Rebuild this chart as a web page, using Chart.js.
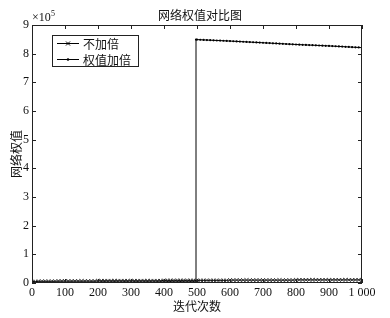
<!DOCTYPE html>
<html lang="zh">
<head>
<meta charset="UTF-8">
<title>网络权值对比图</title>
<style>
    body { margin: 0; background: #fff; }
    #wrap { width: 390px; height: 318px; }
</style>
<script src="https://cdn.jsdelivr.net/npm/chart.js"></script>
</head>
<body>
<div id="wrap"><canvas id="chart" width="390" height="318"></canvas></div>
<script>
// iterations sampled every 10 steps
const iters = [0, 10, 20, 30, 40, 50, 60, 70, 80, 90, 100, 110, 120, 130, 140, 150, 160, 170, 180, 190,
    200, 210, 220, 230, 240, 250, 260, 270, 280, 290, 300, 310, 320, 330, 340, 350, 360, 370, 380, 390,
    400, 410, 420, 430, 440, 450, 460, 470, 480, 490, 500, 510, 520, 530, 540, 550, 560, 570, 580, 590,
    600, 610, 620, 630, 640, 650, 660, 670, 680, 690, 700, 710, 720, 730, 740, 750, 760, 770, 780, 790,
    800, 810, 820, 830, 840, 850, 860, 870, 880, 890, 900, 910, 920, 930, 940, 950, 960, 970, 980, 990, 1000];

// values in units of 10^5
const noDouble = [0.05, 0.05, 0.06, 0.06, 0.06, 0.06, 0.06, 0.06, 0.07, 0.07, 0.07, 0.07, 0.07, 0.07, 0.07, 0.07, 0.07, 0.07, 0.07, 0.07,
    0.08, 0.08, 0.08, 0.08, 0.08, 0.08, 0.08, 0.08, 0.08, 0.08, 0.08, 0.08, 0.08, 0.08, 0.08, 0.08, 0.08, 0.08, 0.08, 0.08,
    0.09, 0.09, 0.09, 0.09, 0.09, 0.09, 0.09, 0.09, 0.09, 0.09, 0.09, 0.09, 0.09, 0.09, 0.09, 0.09, 0.09, 0.09, 0.09, 0.09,
    0.10, 0.10, 0.10, 0.10, 0.10, 0.10, 0.10, 0.10, 0.10, 0.10, 0.10, 0.10, 0.10, 0.10, 0.10, 0.10, 0.10, 0.10, 0.10, 0.10,
    0.11, 0.11, 0.11, 0.11, 0.11, 0.11, 0.11, 0.11, 0.11, 0.11, 0.11, 0.11, 0.11, 0.11, 0.11, 0.11, 0.11, 0.11, 0.11, 0.11, 0.11];

// doubled weights: iterations 0..490
const doubledLow = [0.03, 0.03, 0.03, 0.03, 0.03, 0.03, 0.03, 0.03, 0.03, 0.03, 0.03, 0.03, 0.03, 0.03, 0.03, 0.03, 0.03, 0.03, 0.03, 0.03,
    0.03, 0.03, 0.03, 0.03, 0.03, 0.03, 0.03, 0.03, 0.03, 0.03, 0.03, 0.03, 0.03, 0.03, 0.03, 0.03, 0.03, 0.03, 0.03, 0.03,
    0.03, 0.03, 0.03, 0.03, 0.03, 0.03, 0.03, 0.03, 0.03, 0.03];
const jumpIter = 497;
// doubled weights: iterations 500..1000
const doubledHigh = [8.49, 8.485, 8.48, 8.475, 8.47, 8.465, 8.46, 8.455, 8.45, 8.445,
    8.44, 8.434, 8.428, 8.422, 8.416, 8.41, 8.404, 8.398, 8.392, 8.386,
    8.38, 8.374, 8.368, 8.362, 8.356, 8.35, 8.344, 8.338, 8.332, 8.326,
    8.32, 8.315, 8.31, 8.305, 8.30, 8.295, 8.29, 8.285, 8.28, 8.275,
    8.27, 8.264, 8.258, 8.252, 8.246, 8.24, 8.234, 8.228, 8.222, 8.216, 8.21];

const xTicks = [0, 100, 200, 300, 400, 500, 600, 700, 800, 900, 1000];
const yTicks = [0, 1, 2, 3, 4, 5, 6, 7, 8, 9];
const seriesNames = ['不加倍', '权值加倍'];

const serif = '"Liberation Serif", "Noto Sans CJK SC", serif';
const cjk = '"Noto Sans CJK SC", "Liberation Serif", serif';

const noDoubleData = iters.map((x, i) => ({ x: x, y: noDouble[i] }));
const doubledData = iters.slice(0, 50).map((x, i) => ({ x: x, y: doubledLow[i] }))
    .concat([{ x: jumpIter, y: doubledLow[doubledLow.length - 1] }, { x: jumpIter, y: doubledHigh[0] }])
    .concat(iters.slice(50).map((x, i) => ({ x: x, y: doubledHigh[i] })));

// box, inward ticks, title, exponent and legend drawn matlab style
const matlabFrame = {
    id: 'matlabFrame',
    afterDraw(chart) {
        const ctx = chart.ctx;
        const a = chart.chartArea;
        const xs = chart.scales.x, ys = chart.scales.y;
        ctx.save();
        ctx.strokeStyle = '#222';
        ctx.lineWidth = 1;
        ctx.strokeRect(a.left + 0.5, a.top + 0.5, a.right - a.left - 1, a.bottom - a.top - 1);
        ctx.beginPath();
        xTicks.forEach(v => {
            const px = Math.round(xs.getPixelForValue(v)) + 0.5;
            ctx.moveTo(px, a.bottom); ctx.lineTo(px, a.bottom - 4);
            ctx.moveTo(px, a.top); ctx.lineTo(px, a.top + 4);
        });
        yTicks.forEach(v => {
            const py = Math.round(ys.getPixelForValue(v)) + 0.5;
            ctx.moveTo(a.left, py); ctx.lineTo(a.left + 4, py);
            ctx.moveTo(a.right, py); ctx.lineTo(a.right - 4, py);
        });
        ctx.stroke();

        // title
        ctx.fillStyle = '#111';
        ctx.font = '12px ' + cjk;
        ctx.textAlign = 'center';
        ctx.textBaseline = 'middle';
        ctx.fillText('网络权值对比图', 200, 15);

        // exponent
        ctx.textAlign = 'left';
        ctx.font = '12px ' + serif;
        ctx.fillText('×10', 32, 18);
        ctx.font = '8px ' + serif;
        ctx.fillText('5', 51, 14);

        // legend
        ctx.strokeStyle = '#222';
        ctx.strokeRect(52.5, 35.5, 86, 31);
        const rows = [43, 59];
        ctx.font = '12px ' + cjk;
        rows.forEach((y, i) => {
            ctx.strokeStyle = '#000';
            ctx.fillStyle = '#000';
            ctx.beginPath();
            ctx.moveTo(57, y + 0.5); ctx.lineTo(79, y + 0.5);
            ctx.stroke();
            if (i === 0) {
                ctx.beginPath();
                ctx.moveTo(66, y - 1.5); ctx.lineTo(70, y + 2.5);
                ctx.moveTo(70, y - 1.5); ctx.lineTo(66, y + 2.5);
                ctx.stroke();
            } else {
                ctx.beginPath();
                ctx.arc(68, y + 0.5, 1.3, 0, Math.PI * 2);
                ctx.fill();
            }
            ctx.fillStyle = '#111';
            ctx.fillText(seriesNames[i], 83, y + 1);
        });
        ctx.restore();
    }
};

new Chart(document.getElementById('chart'), {
    type: 'line',
    data: {
        datasets: [{
            label: seriesNames[0],
            data: noDoubleData,
            borderColor: '#000',
            borderWidth: 1,
            pointStyle: 'crossRot',
            pointRadius: 2.5,
            pointBorderColor: '#333',
            pointBorderWidth: 1,
            tension: 0
        }, {
            label: seriesNames[1],
            data: doubledData,
            borderColor: '#000',
            backgroundColor: '#000',
            borderWidth: 1,
            pointStyle: 'circle',
            pointRadius: 1.1,
            pointBorderWidth: 0,
            pointBackgroundColor: '#000',
            tension: 0
        }]
    },
    options: {
        responsive: false,
        animation: false,
        layout: { padding: { left: 0, right: 28, top: 25, bottom: 0 } },
        plugins: {
            legend: { display: false },
            title: { display: false },
            tooltip: { enabled: false }
        },
        scales: {
            x: {
                type: 'linear',
                min: 0,
                max: 1000,
                afterFit: s => { s.height = 35; },
                afterBuildTicks: s => { s.ticks = xTicks.map(v => ({ value: v })); },
                grid: { display: false, drawTicks: false },
                border: { display: false },
                ticks: {
                    color: '#111',
                    font: { family: serif, size: 12 },
                    padding: 3,
                    maxRotation: 0,
                    autoSkip: false,
                    callback: v => v === 1000 ? '1 000' : String(v)
                },
                title: {
                    display: true,
                    text: '迭代次数',
                    color: '#111',
                    font: { family: cjk, size: 12 },
                    padding: { top: 0, bottom: 4 }
                }
            },
            y: {
                min: 0,
                max: 9,
                afterFit: s => { s.width = 32; },
                afterBuildTicks: s => { s.ticks = yTicks.map(v => ({ value: v })); },
                grid: { display: false, drawTicks: false },
                border: { display: false },
                ticks: {
                    color: '#111',
                    font: { family: serif, size: 12 },
                    padding: 3,
                    autoSkip: false
                },
                title: {
                    display: true,
                    text: '网络权值',
                    color: '#111',
                    font: { family: cjk, size: 12 },
                    padding: { top: 9, bottom: 0 }
                }
            }
        }
    },
    plugins: [matlabFrame]
});
</script>
</body>
</html>
